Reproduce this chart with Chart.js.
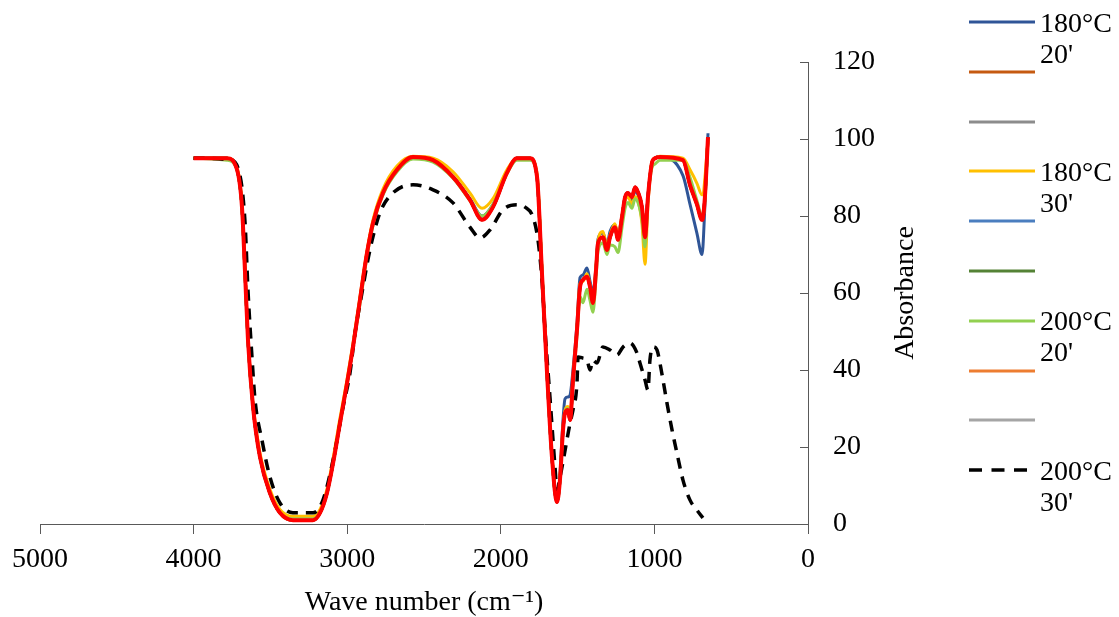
<!DOCTYPE html>
<html>
<head>
<meta charset="utf-8">
<script src="https://cdn.jsdelivr.net/npm/chart.js@4.4.1/dist/chart.umd.min.js"></script>
<style>
  html, body { margin: 0; padding: 0; background: #fff; }
  #wrap { position: relative; width: 1119px; height: 617px; overflow: hidden; }
  #legend { position: absolute; left: 0; top: 0; width: 1119px; height: 617px; pointer-events: none;
            font-family: 'Liberation Serif', 'Times New Roman', serif; font-size: 28px; color: #000; }
  .li { position: absolute; left: 969px; width: 150px; }
  .sw { position: absolute; left: 0; top: -2px; width: 66px; height: 4px; display: block; }
  .tx { position: absolute; left: 71px; line-height: 31px; white-space: nowrap; }
</style>
</head>
<body>
<div id="wrap">
  <canvas id="c" width="1119" height="617"></canvas>
  <div id="legend"></div>
</div>
<script>
// ---------- data ----------
const wavenumbers = [4000,3783,3717,3685,3665,3646,3613,3568,3503,3438,3353,3223,3177,3132,3092,3047,3001,2962,2917,2871,2832,2767,2676,2572,2441,2311,2201,2122,2051,1960,1895,1810,1764,1732,1699,1667,1634,1615,1595,1582,1563,1549,1530,1504,1484,1465,1439,1419,1400,1380,1367,1335,1309,1289,1257,1237,1211,1191,1172,1146,1126,1107,1081,1061,1042,1016,996,964,814,768,723,690,684,671,651];

const s180_20 = [95,95,92,82.3,65.2,47.8,30.4,17.4,8,2.9,1.3,1.3,2.9,8,15.8,26.2,36.6,46.5,58.5,70.5,78.5,86.5,92.5,95,94.5,90.3,84.5,80,83,91.2,95,95,90.1,65.2,39.2,17.4,6,12.5,27,32.5,33,33.5,40,52,64,64.7,66.5,63,60,67,74,75.6,72.5,76,77.7,75,80,84,85,84,86.5,85.5,81,76,85,93.8,95,95.3,90.5,83,75.5,70,72,83,101.5];
const s180_20b = [95,95,92,82.3,65.2,47.8,30.4,17.4,8,2.9,1.0,1.0,2.9,8,15.8,26.2,36.6,46,58.2,70.4,78.2,86,92,95.3,94.5,90.1,84.2,79,82.3,91.2,95,95,90.1,65.2,39.2,17.4,5.7,11.4,24.4,28.8,29.6,27,37.4,50.4,61.6,63.4,64.2,61.6,57.4,66,73,74.5,71.2,74.5,77.1,73.8,79.7,84.9,86,84.9,87.5,86.2,82.3,74.5,84.9,93.8,95,95.3,94.5,88,83,79,79.5,85,100.5];
const s180_20c = [95,95,92,82.3,65.2,47.8,30.4,17.4,8,2.9,1.0,1.0,2.9,8,15.8,26.2,36.6,46,58.2,70.4,78.2,86,92,95.3,94.5,90.1,84.2,79,82.3,91.2,95,95,90.1,65.2,39.2,17.4,5.7,11.4,24.4,28.8,29.6,27,37.4,50.4,61.6,63.4,64.2,61.6,57.4,66,73,74.5,71.2,74.5,77.1,73.8,79.7,84.9,86,84.9,87.5,86.2,82.3,74.5,84.9,93.8,95,95.3,94.5,88,83,79,79.5,85,100.5];
const s180_30 = [95,95,92.5,83,66,48.5,31,18.5,9,3.8,2,2,3.8,9,17,27.5,37.5,47,59,71,79,87,93,95.5,95,91.5,86,82,84.5,92,95,95,91,66,40,18,6.5,12,25,29.5,30.5,28.5,38,51,62.5,63,65,62,58,67,73.5,76,72,75,78,75,80,84,85,83,85,84,78,67.5,83,94,95,95.5,95,92,88.5,85.5,85.5,90,100];
const s180_30b = [95,95,92,82.3,65.2,47.8,30.4,17.4,8,2.9,1.0,1.0,2.9,8,15.8,26.2,36.6,46,58.2,70.4,78.2,86,92,95.3,94.5,90.1,84.2,79,82.3,91.2,95,95,90.1,65.2,39.2,17.4,5.7,11.4,24.4,28.8,29.6,27,37.4,50.4,61.6,63.4,64.2,61.6,57.4,66,73,74.5,71.2,74.5,77.1,73.8,79.7,84.9,86,84.9,87.5,86.2,82.3,74.5,84.9,93.8,95,95.3,94.5,88,83,79,79.5,85,100.5];
const s180_30c = [95,95,92,82.3,65.2,47.8,30.4,17.4,8,2.9,1.0,1.0,2.9,8,15.8,26.2,36.6,46,58.2,70.4,78.2,86,92,95.3,94.5,90.1,84.2,79,82.3,91.2,95,95,90.1,65.2,39.2,17.4,5.7,11.4,24.4,28.8,29.6,27,37.4,50.4,61.6,63.4,64.2,61.6,57.4,66,73,74.5,71.2,74.5,77.1,73.8,79.7,84.9,86,84.9,87.5,86.2,82.3,74.5,84.9,93.8,95,95.3,94.5,88,83,79,79.5,85,100.5];
const s200_20 = [95,94.5,92,82,65,47.5,30.4,17.4,8,2.9,1.3,1.3,2.9,8,15.8,26.2,36.6,46,57,69.5,77.5,85.5,91.5,94.8,94,89.8,84,80,83,91,94.5,94.5,90.5,66,39.5,17.5,6,11.5,24.5,29,30,27.5,37,49,59,57.5,61,58,55,64,71,73,70,72.5,72,70.5,77,82,83.5,82,84.5,83.5,79,72,84,92.5,93.5,94.5,94.5,90,84,80,80,84,100];
const s200_20b = [95,95,92,82.3,65.2,47.8,30.4,17.4,8,2.9,1.0,1.0,2.9,8,15.8,26.2,36.6,46,58.2,70.4,78.2,86,92,95.3,94.5,90.1,84.2,79,82.3,91.2,95,95,90.1,65.2,39.2,17.4,5.7,11.4,24.4,28.8,29.6,27,37.4,50.4,61.6,63.4,64.2,61.6,57.4,66,73,74.5,71.2,74.5,77.1,73.8,79.7,84.9,86,84.9,87.5,86.2,82.3,74.5,84.9,93.8,95,95.3,94.5,88,83,79,79.5,85,100.5];
const s200_20c = [95,95,92,82.3,65.2,47.8,30.4,17.4,8,2.9,1.0,1.0,2.9,8,15.8,26.2,36.6,46,58.2,70.4,78.2,86,92,95.3,94.5,90.1,84.2,79,82.3,91.2,95,95,90.1,65.2,39.2,17.4,5.7,11.4,24.4,28.8,29.6,27,37.4,50.4,61.6,63.4,64.2,61.6,57.4,66,73,74.5,71.2,74.5,77.1,73.8,79.7,84.9,86,84.9,87.5,86.2,82.3,74.5,84.9,93.8,95,95.3,94.5,88,83,79,79.5,85,100.5];
const sRed = [95,95,92,82.3,65.2,47.8,30.4,17.4,8,2.9,1.0,1.0,2.9,8,15.8,26.2,36.6,46,58.2,70.4,78.2,86,92,95.3,94.5,90.1,84.2,79,82.3,91.2,95,95,90.1,65.2,39.2,17.4,5.7,11.4,24.4,28.8,29.6,27,37.4,50.4,61.6,63.4,64.2,61.6,57.4,66,73,74.5,71.2,74.5,77.1,73.8,79.7,84.9,86,84.9,87.5,86.2,82.3,74.5,84.9,93.8,95,95.3,94.5,88,83,79,79.5,85,100.5];

const dashWavenumbers = [4000,3763,3698,3665,3646,3620,3600,3555,3503,3438,3353,3223,3158,3092,3027,2982,2949,2904,2852,2787,2702,2572,2441,2311,2201,2135,2070,1986,1895,1842,1790,1758,1732,1712,1680,1647,1634,1615,1549,1530,1504,1497,1465,1439,1419,1400,1374,1335,1289,1243,1204,1159,1113,1094,1061,1042,1029,1009,983,964,944,918,885,853,814,768,723,684];
const s200_30 = [95,94.6,90.5,78.2,60.8,43.4,32.2,21.8,12.2,5.5,2.9,2.9,6.2,16.6,30.4,39.2,49.6,60,71.2,80.8,86,88.1,86.8,83.4,77.1,74.3,76.4,81.6,82.9,82.3,79.7,73.8,63.4,50.4,33,14.8,8.8,12,26.2,29.6,36.6,43.4,43.1,42.6,40,42.6,41.8,46,45.2,43.9,46,47,44.4,41.8,37.4,34.8,42.6,46,45.2,41.8,37.4,31.4,24.4,18.4,11.4,6.2,3.6,1.6];

const xTicks = [5000,4000,3000,2000,1000,0];
const yTicks = [0,20,40,60,80,100,120];

const legendItems = [
  { label: "180°C\n20'", color: '#2F5597', dash: false },
  { label: '', color: '#C55A11', dash: false },
  { label: '', color: '#8C8C8C', dash: false },
  { label: "180°C\n30'", color: '#FFC000', dash: false },
  { label: '', color: '#4A7EBF', dash: false },
  { label: '', color: '#548235', dash: false },
  { label: "200°C\n20'", color: '#92D050', dash: false },
  { label: '', color: '#ED7D31', dash: false },
  { label: '', color: '#A5A5A5', dash: false },
  { label: "200°C\n30'", color: '#000000', dash: true }
];

// ---------- build ----------
function pts(xs, ys) { return xs.map((x, i) => ({ x: x, y: ys[i] })); }
function line(label, xs, ys, color, width, dash) {
  return { label: label, data: pts(xs, ys), borderColor: color, backgroundColor: color,
           borderWidth: width, borderDash: dash || [], pointRadius: 0, fill: false,
           cubicInterpolationMode: 'monotone', borderCapStyle: 'butt', borderJoinStyle: 'round' };
}
const FONT = "'Liberation Serif', 'Times New Roman', 'DejaVu Serif', serif";

const datasets = [
  line('red', wavenumbers, sRed, '#FF0000', 4),
  line("200°C 30'", dashWavenumbers, s200_30, '#000000', 3.5, [11, 8]),
  line("200°C 20'", wavenumbers, s200_20, '#92D050', 3),
  line("180°C 30'", wavenumbers, s180_30, '#FFC000', 3),
  line("180°C 20'", wavenumbers, s180_20, '#2F5597', 3),
  line('s180_20b', wavenumbers, s180_20b, '#C55A11', 3),
  line('s180_20c', wavenumbers, s180_20c, '#8C8C8C', 3),
  line('s180_30b', wavenumbers, s180_30b, '#4A7EBF', 3),
  line('s180_30c', wavenumbers, s180_30c, '#548235', 3),
  line('s200_20b', wavenumbers, s200_20b, '#ED7D31', 3),
  line('s200_20c', wavenumbers, s200_20c, '#A5A5A5', 3)
];

const extras = {
  id: 'extras',
  afterDraw(chart) {
    const ctx = chart.ctx, ys = chart.scales.y, a = chart.chartArea;
    ctx.save();
    ctx.strokeStyle = '#595959';
    ctx.lineWidth = 1;
    yTicks.forEach(v => {
      const py = Math.round(ys.getPixelForValue(v)) + 0.5;
      ctx.beginPath(); ctx.moveTo(a.right - 8, py); ctx.lineTo(a.right, py); ctx.stroke();
    });
    ctx.fillStyle = '#000';
    ctx.font = '28px ' + FONT;
    ctx.textAlign = 'center';
    ctx.textBaseline = 'middle';
    ctx.translate(906, (a.top + a.bottom) / 2);
    ctx.rotate(-Math.PI / 2);
    ctx.fillText('Absorbance', 0, 0);
    ctx.restore();
  }
};

new Chart(document.getElementById('c'), {
  type: 'line',
  data: { datasets: datasets },
  options: {
    responsive: false,
    animation: false,
    events: [],
    layout: { padding: { left: 40, top: 62, right: 0, bottom: 0 } },
    plugins: { legend: { display: false }, tooltip: { enabled: false } },
    scales: {
      x: {
        type: 'linear', position: 'bottom', reverse: true, min: 0, max: 5000,
        afterBuildTicks: s => { s.ticks = xTicks.map(v => ({ value: v })); },
        afterFit: s => { s.height = 93; },
        grid: { drawOnChartArea: false, drawTicks: true, tickLength: 10, color: '#595959', lineWidth: 1 },
        border: { display: true, color: '#595959', width: 1 },
        ticks: { color: '#000', font: { family: FONT, size: 28 }, padding: 9, maxRotation: 0, autoSkip: false,
                 callback: v => String(v) },
        title: { display: true, text: 'Wave number (cm⁻¹)', color: '#000',
                 font: { family: FONT, size: 28, lineHeight: 1 }, padding: { top: 0, bottom: 0 } }
      },
      y: {
        type: 'linear', position: 'right', min: 0, max: 120,
        afterBuildTicks: s => { s.ticks = yTicks.map(v => ({ value: v })); },
        afterFit: s => { s.width = 311; },
        grid: { drawOnChartArea: false, drawTicks: false },
        border: { display: true, color: '#595959', width: 1 },
        ticks: { color: '#000', font: { family: FONT, size: 28 }, padding: 25, callback: v => String(v) }
      }
    }
  },
  plugins: [extras]
});

// ---------- legend ----------
const lg = document.getElementById('legend');
const SVGNS = 'http://www.w3.org/2000/svg';
legendItems.forEach((it, i) => {
  const cy = 22 + i * 49.8;
  const d = document.createElement('div');
  d.className = 'li';
  d.style.top = cy + 'px';
  const svg = document.createElementNS(SVGNS, 'svg');
  svg.setAttribute('class', 'sw');
  svg.setAttribute('width', '66'); svg.setAttribute('height', '4');
  const ln = document.createElementNS(SVGNS, 'line');
  ln.setAttribute('x1', '0'); ln.setAttribute('y1', '2');
  ln.setAttribute('x2', '66'); ln.setAttribute('y2', '2');
  ln.setAttribute('stroke', it.color);
  ln.setAttribute('stroke-width', it.dash ? '3.5' : '3');
  if (it.dash) ln.setAttribute('stroke-dasharray', '13 9.5');
  svg.appendChild(ln);
  d.appendChild(svg);
  if (it.label) {
    const t = document.createElement('div');
    t.className = 'tx';
    t.style.top = '-15.5px';
    t.innerHTML = it.label.split('\n').join('<br>');
    d.appendChild(t);
  }
  lg.appendChild(d);
});
</script>
</body>
</html>
